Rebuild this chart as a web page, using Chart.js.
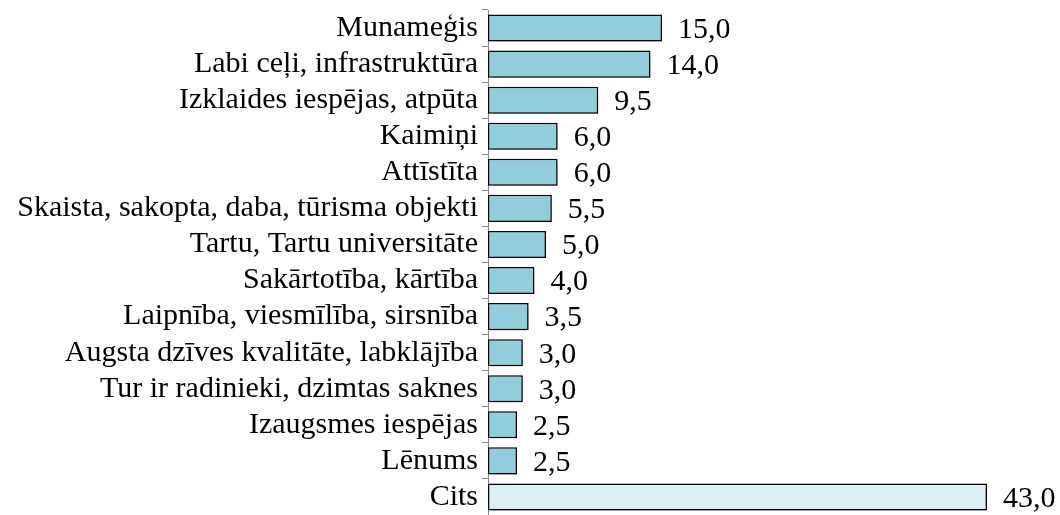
<!DOCTYPE html>
<html lang="lv">
  <head>
    <meta charset="UTF-8" />
    <title>Chart</title>
    <script src="https://cdn.jsdelivr.net/npm/chart.js@4.4.1/dist/chart.umd.min.js"></script>
    <style>
      body { margin: 0; background: #fff; }
      #wrap { width: 1060px; height: 515px; position: relative; }
    </style>
  </head>
  <body>
    <div id="wrap"><canvas id="barChart"></canvas></div>
    <script>
      const categories = [
        'Munameģis',
        'Labi ceļi, infrastruktūra',
        'Izklaides iespējas, atpūta',
        'Kaimiņi',
        'Attīstīta',
        'Skaista, sakopta, daba, tūrisma objekti',
        'Tartu, Tartu universitāte',
        'Sakārtotība, kārtība',
        'Laipnība, viesmīlība, sirsnība',
        'Augsta dzīves kvalitāte, labklājība',
        'Tur ir radinieki, dzimtas saknes',
        'Izaugsmes iespējas',
        'Lēnums',
        'Cits'
      ];
      const values = [15.0, 14.0, 9.5, 6.0, 6.0, 5.5, 5.0, 4.0, 3.5, 3.0, 3.0, 2.5, 2.5, 43.0];
      const barColors = values.map((v, i) => i === values.length - 1 ? '#DAEEF3' : '#92CDDC');
      const serif = '"Liberation Serif", "Times New Roman", serif';

      // ēna stabiņiem
      const shadowPlugin = {
        id: 'shadow',
        beforeDatasetsDraw(chart) {
          const ctx = chart.ctx;
          ctx.save();
          ctx.shadowColor = 'rgba(0,0,0,0.4)';
          ctx.shadowBlur = 5;
          ctx.shadowOffsetX = 3;
          ctx.shadowOffsetY = 3;
        },
        afterDatasetsDraw(chart) {
          chart.ctx.restore();
        }
      };

      // vērtības pie stabiņiem
      const valueLabels = {
        id: 'valueLabels',
        afterDatasetsDraw(chart) {
          const ctx = chart.ctx;
          const meta = chart.getDatasetMeta(0);
          ctx.save();
          ctx.font = '30px ' + serif;
          ctx.fillStyle = '#000';
          ctx.textAlign = 'left';
          ctx.textBaseline = 'middle';
          meta.data.forEach((bar, i) => {
            ctx.fillText(values[i].toFixed(1).replace('.', ','), bar.x + 16, bar.y + 2);
          });
          ctx.restore();
        }
      };

      const ctx = document.getElementById('barChart').getContext('2d');
      new Chart(ctx, {
        type: 'bar',
        data: {
          labels: categories,
          datasets: [{
            data: values,
            backgroundColor: barColors,
            borderColor: '#000',
            borderWidth: 1.5,
            borderSkipped: false,
            barPercentage: 0.75,
            categoryPercentage: 1.0
          }]
        },
        options: {
          indexAxis: 'y',
          responsive: true,
          maintainAspectRatio: false,
          animation: false,
          layout: { padding: { top: 10, right: 73, bottom: 0, left: 0 } },
          plugins: {
            legend: { display: false },
            tooltip: { enabled: false }
          },
          scales: {
            x: { display: false, min: 0, max: 43 },
            y: {
              afterFit(scale) {
                scale.width = 488;
                scale.paddingTop = 0;
                scale.paddingBottom = 0;
              },
              border: { color: '#868686', width: 1 },
              grid: { drawOnChartArea: false, tickLength: 6, color: '#868686', offset: true },
              ticks: {
                color: '#000',
                padding: 4,
                autoSkip: false,
                font: { family: serif, size: 30 }
              }
            }
          }
        },
        plugins: [shadowPlugin, valueLabels]
      });
    </script>
  </body>
</html>
